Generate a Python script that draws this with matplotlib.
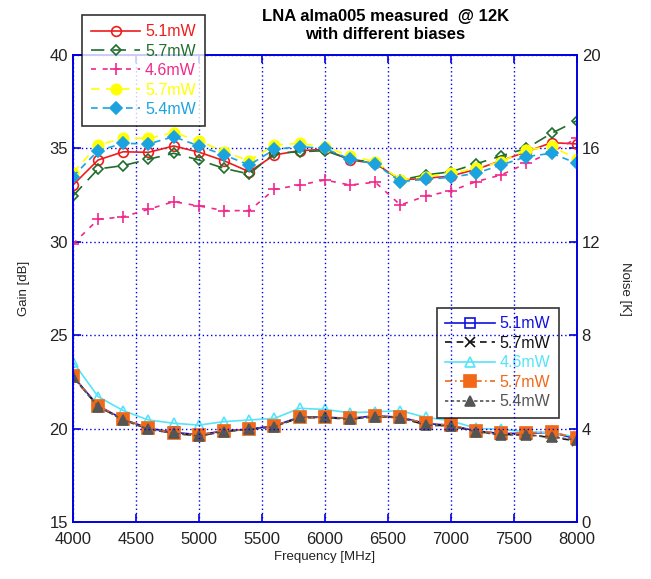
"""
LNA alma005 at 12 K: gain (left axis) and noise temperature (right axis)
versus frequency, for five different bias settings.
"""

import numpy as np
import matplotlib
matplotlib.use("Agg")
import matplotlib.pyplot as plt

plt.rcParams["font.family"] = ["Liberation Sans", "DejaVu Sans"]

freq = np.arange(4000, 8001, 200)

# gain [dB]
gain_51 = [33.04, 34.38, 34.82, 34.79, 35.13, 34.80, 34.34, 33.75, 34.65, 34.88, 34.95,
           34.38, 34.20, 33.31, 33.40, 33.52, 33.88, 34.34, 34.82, 35.31, 35.24]
gain_57a = [32.45, 33.90, 34.08, 34.42, 34.74, 34.38, 33.93, 33.63, 34.74, 34.82, 34.88,
            34.42, 34.24, 33.31, 33.58, 33.75, 34.17, 34.60, 35.00, 35.81, 36.48]
gain_46 = [29.88, 31.20, 31.34, 31.74, 32.15, 31.92, 31.67, 31.67, 32.81, 33.04, 33.31,
           33.04, 33.19, 31.97, 32.45, 32.72, 33.22, 33.58, 34.20, 34.80, 35.54]
gain_57b = [33.70, 35.18, 35.54, 35.54, 35.84, 35.41, 34.82, 34.34, 35.18, 35.27, 35.09,
            34.60, 34.29, 33.31, 33.49, 33.67, 33.93, 34.29, 34.91, 35.13, 34.42]
gain_54 = [33.49, 34.88, 35.27, 35.24, 35.63, 35.13, 34.65, 34.11, 34.95, 35.09, 35.00,
           34.42, 34.17, 33.22, 33.35, 33.45, 33.67, 34.11, 34.56, 34.74, 34.20]

# noise temperature [K]
noise_51 = [6.25, 4.98, 4.40, 4.02, 3.84, 3.74, 3.90, 3.98, 4.12, 4.50, 4.49,
            4.44, 4.55, 4.49, 4.22, 4.14, 3.90, 3.79, 3.80, 3.84, 3.56]
noise_57a = [6.22, 4.95, 4.38, 3.98, 3.80, 3.69, 3.88, 3.96, 4.09, 4.47, 4.47,
             4.41, 4.52, 4.47, 4.16, 4.12, 3.88, 3.75, 3.74, 3.62, 3.48]
noise_46 = [6.86, 5.37, 4.77, 4.37, 4.23, 4.15, 4.30, 4.37, 4.44, 4.87, 4.82,
            4.68, 4.72, 4.77, 4.48, 4.34, 4.01, 3.97, 3.87, 3.82, 3.65]
noise_57b = [6.24, 4.97, 4.40, 4.01, 3.82, 3.73, 3.90, 3.97, 4.11, 4.48, 4.48,
             4.44, 4.54, 4.48, 4.23, 4.15, 3.90, 3.80, 3.80, 3.87, 3.58]
noise_54 = [6.22, 4.94, 4.37, 3.97, 3.80, 3.68, 3.87, 3.97, 4.08, 4.48, 4.48,
            4.40, 4.51, 4.47, 4.15, 4.11, 3.87, 3.73, 3.73, 3.65, 3.51]

# (values, label, colour, linestyle, marker, face, size)
GAIN_SERIES = [
    (gain_51, "5.1mW", "#ee1c1c", "-", "o", "none", 7),
    (gain_57a, "5.7mW", "#1f6e2c", (0, (8, 5)), "D", "none", 5),
    (gain_46, "4.6mW", "#f0288c", (0, (3, 4)), "+", "#f0288c", 8),
    (gain_57b, "5.7mW", "#ffff00", (0, (5, 4)), "o", "#ffff00", 7.5),
    (gain_54, "5.4mW", "#1ba3e0", (0, (4, 3)), "D", "#1ba3e0", 6),
]

NOISE_SERIES = [
    (noise_51, "5.1mW", "#1010e0", "-", "s", "none", 6.5),
    (noise_57a, "5.7mW", "#111111", (0, (4, 3)), "x", "#111111", 6.5),
    (noise_46, "4.6mW", "#55e4f8", "-", "^", "none", 6.5),
    (noise_57b, "5.7mW", "#f06818", (0, (4, 2, 1, 2)), "s", "#f06818", 8),
    (noise_54, "5.4mW", "#555555", (0, (2, 1.5)), "^", "#555555", 6.5),
]

AXIS_BLUE = "#0000e0"

fig = plt.figure(figsize=(6.51, 5.79), dpi=100)
ax = fig.add_axes([0.112, 0.0984, 0.774, 0.8066])
ax2 = ax.twinx()

gain_lines = []
for vals, label, color, ls, mk, mfc, size in GAIN_SERIES:
    (ln,) = ax.plot(freq, vals, color=color, ls=ls, lw=1.2, marker=mk,
                    markersize=size, mfc=mfc, mec=color, mew=1.2, label=label)
    gain_lines.append(ln)

noise_lines = []
for vals, label, color, ls, mk, mfc, size in NOISE_SERIES:
    (ln,) = ax2.plot(freq, vals, color=color, ls=ls, lw=1.2, marker=mk,
                     markersize=size, mfc=mfc, mec=color, mew=1.2, label=label)
    noise_lines.append(ln)

ax.set_xlim(4000, 8000)
ax.set_ylim(15, 40)
ax2.set_ylim(0, 20)
ax.set_xticks(np.arange(4000, 8001, 500))
ax.set_yticks(np.arange(15, 41, 5))
ax2.set_yticks(np.arange(0, 21, 4))

ax.grid(True, color=AXIS_BLUE, ls=(0, (1, 2)), lw=1.0)
for a in (ax, ax2):
    for sp in a.spines.values():
        sp.set_color(AXIS_BLUE)
        sp.set_linewidth(1.2)
    a.tick_params(colors=AXIS_BLUE, labelcolor="#222222", labelsize=12,
                  direction="in", length=6, width=1.2)
ax.tick_params(top=True)
ax.tick_params(axis="x", pad=7)

ax.set_xlabel("Frequency [MHz]", fontsize=9.5, color="#222222", labelpad=3)
ax.set_ylabel("Gain [dB]", fontsize=9.5, color="#222222", labelpad=14)
ax2.set_ylabel("Noise [K]", fontsize=9.5, color="#222222", rotation=270, labelpad=22)

fig.text(0.592, 0.985, "LNA alma005 measured  @ 12K\nwith different biases",
         ha="center", va="top", fontsize=12, fontweight="bold", linespacing=1.25)

leg_kw = dict(frameon=True, fancybox=False, edgecolor="black", fontsize=11.5,
              handlelength=3.1, handletextpad=0.3, labelspacing=0.28,
              borderpad=0.55, borderaxespad=0)

leg1 = ax.legend(handles=gain_lines, loc="upper left", bbox_to_anchor=(0.018, 1.085), **leg_kw)
leg1.get_frame().set_linewidth(1.2)
for txt, ln in zip(leg1.get_texts(), gain_lines):
    txt.set_color(ln.get_color())
leg1.set_zorder(10)

leg2 = ax2.legend(handles=noise_lines, loc="upper left", bbox_to_anchor=(0.722, 0.459), **leg_kw)
leg2.get_frame().set_linewidth(1.2)
for txt, ln in zip(leg2.get_texts(), noise_lines):
    txt.set_color(ln.get_color())

ax.set_zorder(ax2.get_zorder() + 1)
ax.patch.set_visible(False)

fig.savefig("out.png", dpi=100)
